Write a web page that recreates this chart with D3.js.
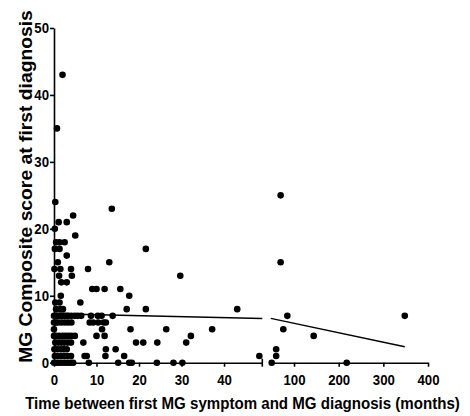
<!DOCTYPE html>
<html>
<head>
<meta charset="utf-8">
<script src="https://cdn.jsdelivr.net/npm/d3@7"></script>
<style>
  html, body { margin: 0; padding: 0; background: #fff; }
  svg { display: block; }
  .axis path, .axis line { stroke: #000; stroke-width: 1.6px; }
  .axis text { font-family: "Liberation Sans", Arial, sans-serif; font-weight: bold; font-size: 15px; fill: #000; }
  .title { font-family: "Liberation Sans", Arial, sans-serif; font-weight: bold; fill: #000; }
</style>
</head>
<body>
<svg id="chart" width="470" height="416"></svg>
<script>
// ---- data (months from first symptom to diagnosis, MG composite score) ----
const months = [
  2, 0.7, 0.3, 13.6, 4.5, 1.1, 3, 0.2, 5,
  0.5, 1.3, 2.5,
  0.2, 1.3, 21.6,
  3,
  0.9, 13,
  0.1, 1.5, 4, 8,
  1.2, 4.2, 29.7,
  1.7, 3,
  9, 10, 11.9, 15.6,
  1.6, 17.7,
  0.3, 1.3, 6.2,
  0.5, 1.5, 2.1, 17.1, 21.6, 43.1,
  0, 0.5, 0.9, 1.3, 1.7, 2.1, 2.5, 3, 3.4, 4.1, 4.9, 5.6, 6.4, 8.7, 10.3, 11.2, 13.8,
  0, 0.4, 0.9, 1.7, 2.5, 3.3, 4.1, 8.4, 9.2, 10.4, 11.7, 12.2,
  0, 11.3, 18, 26.4, 37.2,
  0, 0.5, 1.2, 2, 2.7, 3.4, 4.1, 4.9, 10, 11.9, 32.2,
  0.3, 1, 1.7, 2.4, 3.2, 4, 6.9, 19.3, 21, 24.3, 31.1,
  0.1, 0.8, 1.6, 2.3, 3, 12.2, 14.5,
  0.2, 0.9, 1.6, 2.4, 3.2, 4, 7.2, 7.7, 12.1, 16.5, 48.3,
  0, 0.6, 1.2, 1.9, 2.6, 3.3, 4, 4.5, 8.2, 15.1, 17.7, 18.3, 24.2, 28.1, 30.2,
  70, 70, 85, 76, 144, 348, 60, 60, 50, 218
];
const scores = [
  43, 35, 24, 23, 22, 21, 21, 20, 19,
  18, 18, 18,
  17, 17, 17,
  16,
  15, 15,
  14, 14, 14, 14,
  13, 13, 13,
  12, 12,
  11, 11, 11, 11,
  10, 10,
  9, 9, 9,
  8, 8, 8, 8, 8, 8,
  7, 7, 7, 7, 7, 7, 7, 7, 7, 7, 7, 7, 7, 7, 7, 7, 7,
  6, 6, 6, 6, 6, 6, 6, 6, 6, 6, 6, 6,
  5, 5, 5, 5, 5,
  4, 4, 4, 4, 4, 4, 4, 4, 4, 4, 4,
  3, 3, 3, 3, 3, 3, 3, 3, 3, 3, 3,
  2, 2, 2, 2, 2, 2, 2,
  1, 1, 1, 1, 1, 1, 1, 1, 1, 1, 1,
  0, 0, 0, 0, 0, 0, 0, 0, 0, 0, 0, 0, 0, 0, 0,
  25, 15, 7, 5, 4, 7, 2, 1, 0, 0
];
// linear fit: score = intercept + slope * months
const fitIntercept = 7.3;
const fitSlope = -0.0141;
const fitLeftRange = [0, 49];
const fitRightRange = [48, 348];

const xLeftDomain = [0, 49];
const xRightDomain = [48, 400];
const yDomain = [0, 50];
const xLeftTicks = [0, 10, 20, 30, 40];
const xRightTicks = [100, 200, 300, 400];
const yTicks = [0, 10, 20, 30, 40, 50];

const xTitle = "Time between first MG symptom and MG diagnosis (months)";
const yTitle = "MG Composite score at first diagnosis";

// ---- drawing ----
const svg = d3.select("#chart");
const xL = d3.scaleLinear().domain(xLeftDomain).range([54, 262.3]);
const xR = d3.scaleLinear().domain(xRightDomain).range([270.8, 428]);
const y = d3.scaleLinear().domain(yDomain).range([362.7, 28]);
const y0 = y(0);

function xPos(m) { return m <= xLeftDomain[1] ? xL(m) : xR(m); }

// condensed tick text
function condense(g) {
  g.selectAll("text").each(function () {
    const w = this.getComputedTextLength();
    d3.select(this).attr("textLength", w * 0.88).attr("lengthAdjust", "spacingAndGlyphs");
  });
}

// axes
svg.append("g").attr("class", "axis")
  .attr("transform", `translate(0,${y0})`)
  .call(d3.axisBottom(xL).tickValues(xLeftTicks).tickSize(4).tickSizeOuter(0).tickPadding(8))
  .call(condense);
svg.append("g").attr("class", "axis")
  .attr("transform", `translate(0,${y0})`)
  .call(d3.axisBottom(xR).tickValues(xRightTicks).tickSize(4).tickSizeOuter(0).tickPadding(8))
  .call(condense);
svg.append("g").attr("class", "axis")
  .attr("transform", `translate(${xL(0)},0)`)
  .call(d3.axisLeft(y).tickValues(yTicks).tickSize(4).tickSizeOuter(0).tickPadding(1))
  .call(condense);

// break marker at end of left x segment
svg.append("line")
  .attr("x1", xL(xLeftDomain[1])).attr("x2", xL(xLeftDomain[1]))
  .attr("y1", y0 - 4).attr("y2", y0 + 4)
  .attr("stroke", "#000").attr("stroke-width", 1.6);

// fit lines
const fit = m => fitIntercept + fitSlope * m;
svg.append("line")
  .attr("x1", xL(fitLeftRange[0])).attr("y1", y(fit(fitLeftRange[0])))
  .attr("x2", xL(fitLeftRange[1])).attr("y2", y(fit(fitLeftRange[1])))
  .attr("stroke", "#000").attr("stroke-width", 1.5);
svg.append("line")
  .attr("x1", xR(fitRightRange[0])).attr("y1", y(fit(fitRightRange[0])))
  .attr("x2", xR(fitRightRange[1])).attr("y2", y(fit(fitRightRange[1])))
  .attr("stroke", "#000").attr("stroke-width", 1.5);

// points
svg.append("g").selectAll("circle")
  .data(months.map((m, i) => ({ m, s: scores[i] })))
  .join("circle")
  .attr("cx", d => xPos(d.m))
  .attr("cy", d => y(d.s))
  .attr("r", 3.3)
  .attr("fill", "#000");

// titles (horizontally condensed via scale transform)
function scaledTitle(text, size, targetLen, tx, ty, rot) {
  const t = svg.append("text").attr("class", "title")
    .attr("text-anchor", "middle")
    .attr("font-size", size)
    .text(text);
  const w = t.node().getComputedTextLength();
  const sx = targetLen / w;
  t.attr("transform", `translate(${tx},${ty}) rotate(${rot}) scale(${sx},1)`);
  return t;
}
scaledTitle(xTitle, 17, 435, 242.5, 408.5, 0);
scaledTitle(yTitle, 17.5, 353, 32, 186.5, -90);
</script>
</body>
</html>
